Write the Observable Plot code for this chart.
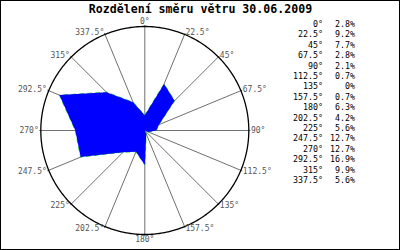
<!DOCTYPE html>
<html>
<head>
<meta charset="utf-8">
<script src="https://cdn.jsdelivr.net/npm/d3@7"></script>
<script src="https://cdn.jsdelivr.net/npm/@observablehq/plot@0.6"></script>
<style>
  html, body { margin: 0; padding: 0; background: white; }
  svg { display: block; }
</style>
</head>
<body>
<div id="chart"></div>
<script>
const title = "Rozdělení směru větru 30.06.2009";
const directions = [0, 22.5, 45, 67.5, 90, 112.5, 135, 157.5, 180, 202.5, 225, 247.5, 270, 292.5, 315, 337.5];
const directionLabels = ["0°", "22.5°", "45°", "67.5°", "90°", "112.5°", "135°", "157.5°", "180°", "202.5°", "225°", "247.5°", "270°", "292.5°", "315°", "337.5°"];
const percents = [2.8, 9.2, 7.7, 2.8, 2.1, 0.7, 0, 0.7, 6.3, 4.2, 5.6, 12.7, 12.7, 16.9, 9.9, 5.6];
const percentLabels = ["2.8%", "9.2%", "7.7%", "2.8%", "2.1%", "0.7%", "0%", "0.7%", "6.3%", "4.2%", "5.6%", "12.7%", "12.7%", "16.9%", "9.9%", "5.6%"];

const rMax = d3.max(percents) * 1.125;
const rad = (a) => a * Math.PI / 180;
const px = (a, r) => r * Math.sin(rad(a));
const py = (a, r) => r * Math.cos(rad(a));

const points = directions.map((a, i) => ({a, v: percents[i]}));
const ring = d3.range(0, 360, 1).map((a) => ({a}));
const spokes = directions.map((a, i) => ({a, label: directionLabels[i]}));
const labR = rMax * 1.02;

const plot = Plot.plot({
  width: 400,
  height: 250,
  marginLeft: 40.3,
  marginRight: 151.7,
  marginTop: 26,
  marginBottom: 16,
  x: {domain: [-rMax, rMax], axis: null},
  y: {domain: [-rMax, rMax], axis: null},
  style: {fontFamily: "DejaVu Sans Mono", fontSize: "8px", background: "white"},
  marks: [
    Plot.link(spokes, {x1: 0, y1: 0, x2: (d) => px(d.a, rMax * 1.015), y2: (d) => py(d.a, rMax * 1.015), stroke: "#707070", strokeWidth: 1}),
    Plot.line(points, {x: (d) => px(d.a, d.v), y: (d) => py(d.a, d.v), curve: "linear-closed", stroke: "#22dd22", strokeWidth: 1, strokeDasharray: "4,4"}),
    Plot.line(points, {x: (d) => px(d.a, d.v), y: (d) => py(d.a, d.v), curve: "linear-closed", fill: "#0000ff", stroke: "none"}),
    Plot.line(ring, {x: (d) => px(d.a, rMax), y: (d) => py(d.a, rMax), curve: "linear-closed", stroke: "black", strokeWidth: 1.3}),
    Plot.text(spokes.filter((d) => d.a > 0 && d.a < 180), {x: (d) => px(d.a, labR), y: (d) => py(d.a, labR), text: "label", textAnchor: "start", lineAnchor: "middle", fill: "#555"}),
    Plot.text(spokes.filter((d) => d.a > 180), {x: (d) => px(d.a, labR), y: (d) => py(d.a, labR), text: "label", textAnchor: "end", lineAnchor: "middle", fill: "#555"}),
    Plot.text(spokes.filter((d) => d.a === 0), {x: (d) => px(d.a, labR), y: (d) => py(d.a, labR), text: "label", textAnchor: "middle", lineAnchor: "bottom", fill: "#555"}),
    Plot.text(spokes.filter((d) => d.a === 180), {x: (d) => px(d.a, labR), y: (d) => py(d.a, labR), text: "label", textAnchor: "middle", lineAnchor: "top", fill: "#555"}),
    Plot.text([title], {frameAnchor: "top", dx: 55.7, dy: -17, lineAnchor: "middle", fontSize: 11.6, fontWeight: "bold", fill: "black"})
  ]
});

const svg = d3.select(plot);
const legend = svg.append("g").attr("font-family", "DejaVu Sans Mono").attr("font-size", 8.3).attr("fill", "black");
directionLabels.forEach((lab, i) => {
  const y = 24 + i * 10.4;
  legend.append("text").attr("x", 323).attr("y", y).attr("dy", "0.35em").attr("text-anchor", "end").text(lab);
  legend.append("text").attr("x", 355).attr("y", y).attr("dy", "0.35em").attr("text-anchor", "end").text(percentLabels[i]);
});
svg.append("rect").attr("x", 0.5).attr("y", 0.5).attr("width", 399).attr("height", 249)
  .attr("fill", "none").attr("stroke", "black").attr("stroke-width", 1);

document.getElementById("chart").appendChild(plot);
</script>
</body>
</html>
